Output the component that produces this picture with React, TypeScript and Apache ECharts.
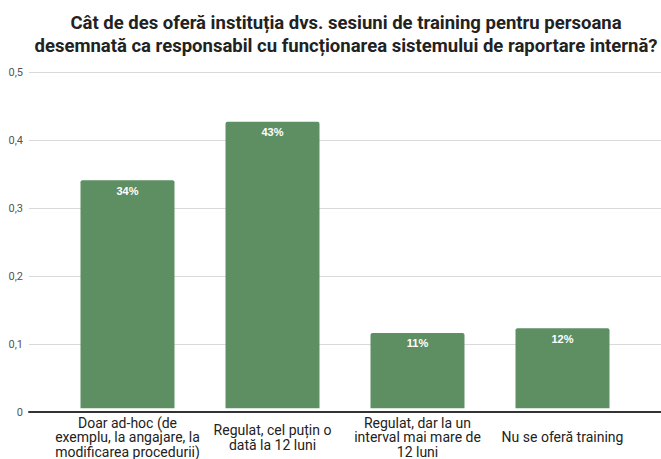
import React, { useEffect, useRef } from "react";
import * as echarts from "echarts";

const titleText =
  "Cât de des oferă instituția dvs. sesiuni de training pentru persoana\ndesemnată ca responsabil cu funcționarea sistemului de raportare internă?";
const categories = [
  "Doar ad-hoc (de\nexemplu, la angajare, la\nmodificarea procedurii)",
  "Regulat, cel puțin o\ndată la 12 luni",
  "Regulat, dar la un\ninterval mai mare de\n12 luni",
  "Nu se oferă training",
];
const values = [0.339, 0.426, 0.112, 0.119];
const yMin = 0;
const yMax = 0.5;
const yInterval = 0.1;

export default function App() {
  const ref = useRef<HTMLDivElement>(null);
  useEffect(() => {
    if (!ref.current) return;
    const chart = echarts.init(ref.current, null, { renderer: "svg" });
    chart.setOption({
      animation: false,
      backgroundColor: "#ffffff",
      title: {
        text: titleText,
        left: 346,
        top: 0,
        textAlign: "center",
        padding: [11, 0, 0, 0],
        textStyle: {
          fontFamily: "Roboto",
          fontWeight: "bold",
          fontSize: 18.5,
          lineHeight: 23,
          color: "#222222",
        },
      },
      grid: [
        { left: 55, right: 26, top: 72, bottom: 47 },
        { left: 29, right: 0, top: 72, bottom: 47 },
      ],
      xAxis: [
        {
          type: "category",
          gridIndex: 0,
          data: categories,
          axisLine: { show: false },
          axisTick: { show: false },
          axisLabel: {
            interval: 0,
            margin: 29,
            verticalAlign: "middle",
            fontFamily: "Roboto",
            fontSize: 14,
            lineHeight: 14.5,
            color: "#222222",
          },
        },
        {
          type: "value",
          gridIndex: 1,
          min: 0,
          max: 1,
          axisLine: { show: true, onZero: false, lineStyle: { color: "#333333", width: 2 } },
          axisTick: { show: false },
          axisLabel: { show: false },
          splitLine: { show: false },
        },
      ],
      yAxis: [
        {
          type: "value",
          gridIndex: 0,
          min: yMin,
          max: yMax,
          interval: yInterval,
          show: false,
          splitLine: { show: false },
        },
        {
          type: "value",
          gridIndex: 1,
          min: yMin,
          max: yMax,
          interval: yInterval,
          axisLine: { show: false },
          axisTick: { show: false },
          axisLabel: {
            margin: 6,
            fontFamily: "Roboto",
            fontSize: 11,
            color: "#555555",
            formatter: (v: number) => (v === 0 ? "0" : v.toFixed(1).replace(".", ",")),
          },
          splitLine: { lineStyle: { color: "#d9d9d9", width: 1 } },
        },
      ],
      series: [
        {
          type: "bar",
          xAxisIndex: 0,
          yAxisIndex: 0,
          data: values,
          barWidth: 94,
          itemStyle: { color: "#5e8f63", borderRadius: [2, 2, 0, 0] },
          label: {
            show: true,
            position: "insideTop",
            distance: 5,
            color: "#ffffff",
            fontFamily: "Arial",
            fontWeight: "bold",
            fontSize: 11,
            formatter: (p: any) => Math.round(p.value * 100) + "%",
          },
        },
      ],
    });
    return () => chart.dispose();
  }, []);
  return (
    <div
      ref={ref}
      style={{ position: "fixed", left: 0, top: 0, width: 661, height: 459 }}
    />
  );
}
